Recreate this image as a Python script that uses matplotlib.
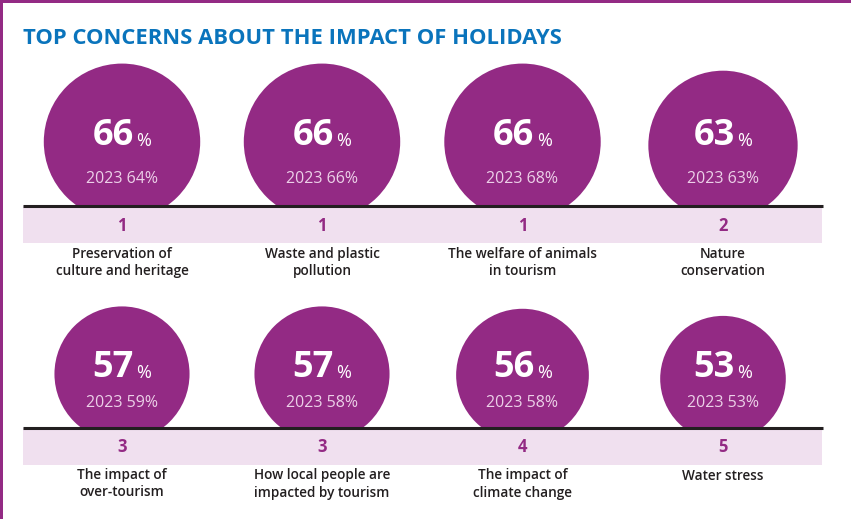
import matplotlib
matplotlib.use('Agg')
import matplotlib.pyplot as plt
from matplotlib.patches import Circle, Rectangle

plt.rcParams['font.family'] = ['Open Sans', 'DejaVu Sans']

# data
values = [66, 66, 66, 63, 57, 57, 56, 53]
prev_values = [64, 66, 68, 63, 59, 58, 58, 53]
ranks = [1, 1, 1, 2, 3, 3, 4, 5]
labels = ['Preservation of\nculture and heritage', 'Waste and plastic\npollution',
          'The welfare of animals\nin tourism', 'Nature\nconservation',
          'The impact of\nover-tourism', 'How local people are\nimpacted by tourism',
          'The impact of\nclimate change', 'Water stress']
title = 'TOP CONCERNS ABOUT THE IMPACT OF HOLIDAYS'

PURPLE = '#932a84'
BAND = '#f0e0ef'
DARK = '#231f20'
BLUE = '#0a74bc'
PALE = '#ecd0e8'

W, H = 851, 519
fig = plt.figure(figsize=(W / 100, H / 100), dpi=100)
ax = fig.add_axes([0, 0, 1, 1])
ax.set_xlim(0, W)
ax.set_ylim(H, 0)
ax.axis('off')

# frame bits
ax.add_patch(Rectangle((0, 0), 2.5, H, color=PURPLE, lw=0))
ax.add_patch(Rectangle((0, 0), W, 2.5, color=PURPLE, lw=0))

ax.text(23, 38, title, color=BLUE, fontsize=15.8, fontweight='bold', va='center', ha='left')

col_x = [122, 322, 522.5, 723]
rows = [dict(line=206, num=136, sub=179, rank=226, lab=254),
        dict(line=427.5, num=368, sub=403, rank=447, lab=475.5)]
scale = 1.185  # px radius per percentage point

fig.canvas.draw()
renderer = fig.canvas.get_renderer()

for i, v in enumerate(values):
    r = rows[i // 4]
    cx = col_x[i % 4]
    rad = v * scale
    cy = r['line'] + 14 - rad
    ax.add_patch(Circle((cx, cy), rad, color=PURPLE, lw=0, zorder=1))

    # big number + small % centred as a group
    t1 = ax.text(0, r['num'], str(v), color='white', fontsize=26, fontweight='bold',
                 va='center', ha='left', zorder=3)
    t2 = ax.text(0, r['num'] + 5, '%', color='white', fontsize=13,
                 va='center', ha='left', zorder=3)
    w1 = t1.get_window_extent(renderer).width
    w2 = t2.get_window_extent(renderer).width
    gap = 2.5
    x0 = cx - (w1 + gap + w2) / 2
    t1.set_x(x0)
    t2.set_x(x0 + w1 + gap)

    ax.text(cx, r['sub'], '2023 %d%%' % prev_values[i], color=PALE, fontsize=11.5,
            va='center', ha='center', zorder=3)

    ax.text(cx, r['rank'], str(ranks[i]), color=PURPLE, fontsize=12, fontweight='bold',
            va='center', ha='center', zorder=5)
    for k, line in enumerate(labels[i].split('\n')):
        ax.text(cx, r['lab'] + 17 * k, line, color=DARK, fontsize=9.8,
                fontweight='semibold', va='center', ha='center', zorder=5)

for r in rows:
    ax.add_patch(Rectangle((23, r['line']), 799, 37, color=BAND, lw=0, zorder=4))
    ax.plot([23, 823], [r['line'], r['line']], color=DARK, lw=2.2, zorder=6,
            solid_capstyle='butt')

fig.savefig('out.png', dpi=100, facecolor='white')
